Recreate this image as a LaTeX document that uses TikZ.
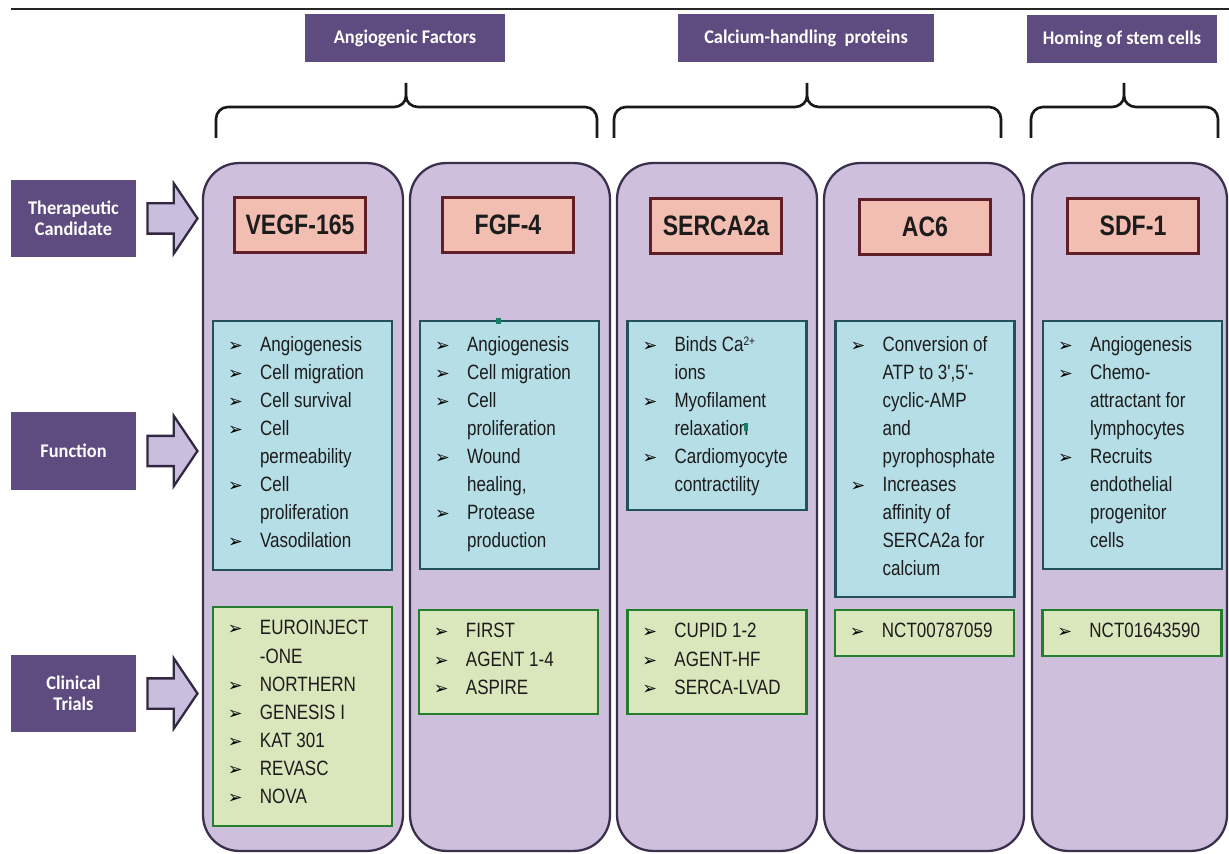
\documentclass[tikz,border=0pt]{standalone}
\usepackage{fontspec}
\usepackage{tikz}
\usetikzlibrary{positioning,shapes.arrows}
\setmainfont{Liberation Sans}
\newfontfamily\narrowf[FakeStretch=0.82]{Liberation Sans}
\newfontfamily\labelf[FakeStretch=0.95]{Carlito}
\newfontfamily\dingf{DejaVu Sans}

\definecolor{hdrpurple}{RGB}{94,75,128}
\definecolor{colfill}{RGB}{206,192,221}
\definecolor{coledge}{RGB}{58,48,78}
\definecolor{arrowfill}{RGB}{202,190,222}
\definecolor{arrowedge}{RGB}{50,40,65}
\definecolor{candfill}{RGB}{242,190,178}
\definecolor{candedge}{RGB}{95,30,40}
\definecolor{funcfill}{RGB}{182,222,230}
\definecolor{funcedge}{RGB}{34,80,92}
\definecolor{trialfill}{RGB}{218,230,188}
\definecolor{trialedge}{RGB}{35,125,45}
\definecolor{txtdark}{RGB}{28,28,28}
\definecolor{speck}{RGB}{20,130,100}

\newcommand{\lstbul}{\makebox[0.68cm][l]{\hspace{0.04cm}\color{black}\dingf\fontsize{10}{10}\selectfont ➢}}
\newcommand{\lstgap}{\makebox[0.68cm]{}}
\newcommand{\ionsup}[1]{\raisebox{0.55ex}{\fontsize{7}{7}\selectfont #1}}

\begin{document}
\begin{tikzpicture}[
    x=0.02cm, y=-0.02cm,
    grp/.style={
        fill=hdrpurple,
        text=white,
        font=\labelf\bfseries\fontsize{11}{13}\selectfont,
        minimum height=0.96cm,
        inner sep=0
    },
    rowlbl/.style={
        fill=hdrpurple,
        text=white,
        font=\labelf\bfseries\fontsize{11}{12}\selectfont,
        align=center,
        minimum width=2.5cm,
        minimum height=1.55cm,
        inner sep=0
    },
    blk/.style={
        single arrow,
        draw=arrowedge,
        fill=arrowfill,
        line width=1.3pt,
        minimum height=1cm,
        single arrow head extend=0.4cm,
        single arrow tip angle=112,
        inner xsep=0,
        inner ysep=0.28cm
    },
    col/.style={
        draw=coledge,
        fill=colfill,
        line width=1.3pt,
        rounded corners=0.72cm,
        minimum width=4cm,
        minimum height=13.76cm,
        inner sep=0
    },
    cand/.style={
        draw=candedge,
        fill=candfill,
        line width=1.3pt,
        minimum width=2.62cm,
        minimum height=1.1cm,
        inner sep=0,
        text=txtdark,
        font=\narrowf\bfseries\fontsize{16}{18}\selectfont
    },
    func/.style={
        draw=funcedge,
        fill=funcfill,
        line width=1.5pt,
        minimum width=3.58cm,
        inner sep=0
    },
    trial/.style={
        draw=trialedge,
        fill=trialfill,
        line width=1.6pt,
        minimum width=3.58cm,
        inner sep=0
    },
    lst/.style={
        inner sep=0,
        align=left,
        text=txtdark,
        font=\narrowf\fontsize{11.8}{16}\selectfont
    },
    brc/.style={line width=1.5pt, black!90}
]

\fill[white] (0,0) rectangle (1229,854);
\useasboundingbox (0,0) rectangle (1229,854);

% top rule
\coordinate (rulel) at (11,9);
\coordinate (ruler) at (1229,9);
\draw[line width=1.1pt, black!85] (rulel) -- (ruler);

% group headers
\node[grp, minimum width=4cm] (gangio) at (405,38) {Angiogenic Factors};
\node[grp, minimum width=5.12cm] (gcalc) at (806,38) {Calcium-handling\ \ proteins};
\node[grp, minimum width=3.8cm] (ghome) at (1122,39.5) {Homing of stem cells};

% braces
\draw[brc] (216,138) -- (216,119) to[out=90,in=180] (228,107) -- (394,107)
    to[out=0,in=-90] (406,96) -- (406,83);
\draw[brc] (406,96) to[out=-90,in=180] (418,107) -- (585,107)
    to[out=0,in=90] (597,119) -- (597,138);
\draw[brc] (614,138) -- (614,119) to[out=90,in=180] (626,107) -- (795,107)
    to[out=0,in=-90] (807,96) -- (807,83);
\draw[brc] (807,96) to[out=-90,in=180] (819,107) -- (989,107)
    to[out=0,in=90] (1001,119) -- (1001,138);
\draw[brc] (1031,138) -- (1031,119) to[out=90,in=180] (1043,107) -- (1112,107)
    to[out=0,in=-90] (1124,96) -- (1124,83);
\draw[brc] (1124,96) to[out=-90,in=180] (1136,107) -- (1206,107)
    to[out=0,in=90] (1218,119) -- (1218,138);

% row labels and block arrows
\node[rowlbl] (lcand) at (73.5,218.5) {Therapeutic\\Candidate};
\node[rowlbl] (lfunc) at (73.5,451) {Function};
\node[rowlbl] (ltrial) at (73.5,693.5) {Clinical\\Trials};

\node[blk, right=0.2cm of lcand] (acand) {};
\node[blk, right=0.2cm of lfunc] (afunc) {};
\node[blk, right=0.2cm of ltrial] (atrial) {};

% columns
\node[col] (c1) at (303,507) {};
\node[col] (c2) at (510,507) {};
\node[col] (c3) at (717,507) {};
\node[col] (c4) at (924,507) {};
\node[col, minimum width=3.9cm] (c5) at (1129.5,507) {};

% candidates
\node[cand] (vegf) at (300,225) {VEGF-165};
\node[cand] (fgf) at (508,225) {FGF-4};
\node[cand] (serca) at (716,226) {SERCA2a};
\node[cand] (ac) at (925,227) {AC6};
\node[cand] (sdf) at (1133,226) {SDF-1};

% function boxes
\node[func, minimum height=4.98cm] (f1) at (302.5,445.5) {};
\node[func, minimum height=4.96cm] (f2) at (509.5,445) {};
\node[func, minimum height=3.78cm] (f3) at (717,415.5) {};
\node[func, minimum height=5.52cm] (f4) at (925,459) {};
\node[func, minimum height=4.96cm] (f5) at (1132.5,445) {};

\node[lst, below right=0.32cm and 0.28cm of f1.north west] (f1txt)
{\lstbul Angiogenesis\\ \lstbul Cell migration\\ \lstbul Cell survival\\
 \lstbul Cell\\ \lstgap permeability\\ \lstbul Cell\\ \lstgap proliferation\\
 \lstbul Vasodilation};
\node[lst, below right=0.32cm and 0.28cm of f2.north west] (f2txt)
{\lstbul Angiogenesis\\ \lstbul Cell migration\\ \lstbul Cell\\ \lstgap proliferation\\
 \lstbul Wound\\ \lstgap healing,\\ \lstbul Protease\\ \lstgap production};
\node[lst, below right=0.32cm and 0.28cm of f3.north west] (f3txt)
{\lstbul Binds Ca\ionsup{2+}\\ \lstgap ions\\ \lstbul Myofilament\\
 \lstgap relaxation\\ \lstbul Cardiomyocyte\\ \lstgap contractility};
\node[lst, below right=0.32cm and 0.28cm of f4.north west] (f4txt)
{\lstbul Conversion of\\ \lstgap ATP to 3',5'-\\ \lstgap cyclic-AMP\\ \lstgap and\\
 \lstgap pyrophosphate\\ \lstbul Increases\\ \lstgap affinity of\\
 \lstgap SERCA2a for\\ \lstgap calcium};
\node[lst, below right=0.32cm and 0.28cm of f5.north west] (f5txt)
{\lstbul Angiogenesis\\ \lstbul Chemo-\\ \lstgap attractant for\\ \lstgap lymphocytes\\
 \lstbul Recruits\\ \lstgap endothelial\\ \lstgap progenitor\\ \lstgap cells};

% specks
\fill[speck] (496,318) rectangle (501,324);
\fill[speck] (744,423) rectangle (748,431);

% clinical trial boxes
\node[trial, minimum height=4.38cm] (t1) at (302.5,716.5) {};
\node[trial, minimum height=2.08cm] (t2) at (508.5,662) {};
\node[trial, minimum height=2.08cm] (t3) at (717,662) {};
\node[trial, minimum height=0.92cm] (t4) at (924.5,633) {};
\node[trial, minimum height=0.92cm] (t5) at (1132,633) {};

\node[lst, below right=0.29cm and 0.28cm of t1.north west] (t1txt)
{\lstbul EUROINJECT\\ \lstgap -ONE\\ \lstbul NORTHERN\\ \lstbul GENESIS I\\
 \lstbul KAT 301\\ \lstbul REVASC\\ \lstbul NOVA};
\node[lst, below right=0.29cm and 0.28cm of t2.north west] (t2txt)
{\lstbul FIRST\\ \lstbul AGENT 1-4\\ \lstbul ASPIRE};
\node[lst, below right=0.29cm and 0.28cm of t3.north west] (t3txt)
{\lstbul CUPID 1-2\\ \lstbul AGENT-HF\\ \lstbul SERCA-LVAD};
\node[lst, below right=0.29cm and 0.28cm of t4.north west] (t4txt)
{\lstbul NCT00787059};
\node[lst, below right=0.29cm and 0.28cm of t5.north west] (t5txt)
{\lstbul NCT01643590};

\end{tikzpicture}
\end{document}
